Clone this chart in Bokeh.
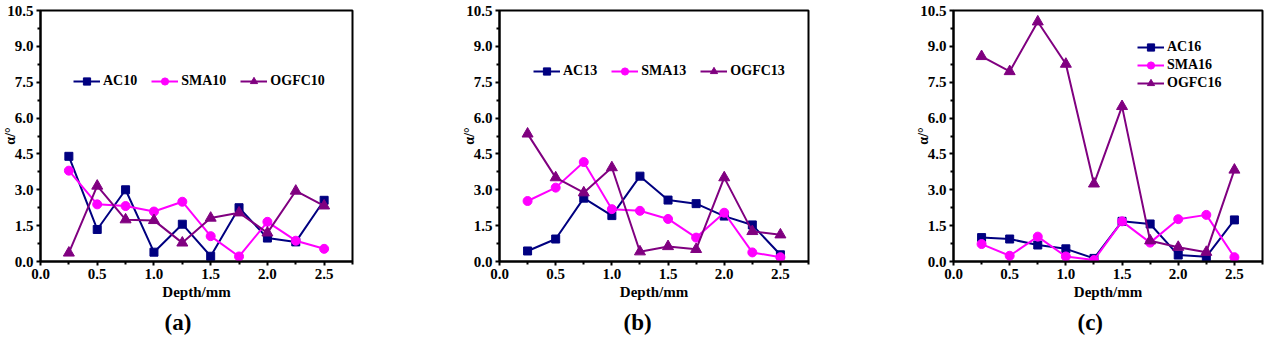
from bokeh.plotting import figure
from bokeh.models import (Range1d, FixedTicker, PrintfTickFormatter, Legend, LegendItem,
                          Title)
from bokeh.layouts import row
from bokeh.embed import file_html
from bokeh.resources import INLINE

depth = [0.25, 0.5, 0.75, 1.0, 1.25, 1.5, 1.75, 2.0, 2.25, 2.5]

ac10 = [4.40, 1.34, 3.00, 0.39, 1.56, 0.22, 2.25, 0.98, 0.82, 2.56]
sma10 = [3.80, 2.39, 2.32, 2.09, 2.50, 1.06, 0.21, 1.66, 0.87, 0.53]
ogfc10 = [0.36, 3.16, 1.75, 1.72, 0.78, 1.82, 2.04, 1.20, 2.95, 2.33]

ac13 = [0.44, 0.94, 2.65, 1.92, 3.57, 2.57, 2.42, 1.90, 1.53, 0.28]
sma13 = [2.53, 3.09, 4.16, 2.19, 2.12, 1.78, 1.00, 2.04, 0.38, 0.18]
ogfc13 = [5.34, 3.51, 2.88, 3.93, 0.41, 0.63, 0.51, 3.51, 1.26, 1.12]

ac16 = [1.00, 0.94, 0.69, 0.53, 0.13, 1.68, 1.57, 0.27, 0.20, 1.74]
sma16 = [0.73, 0.24, 1.04, 0.21, 0.06, 1.68, 0.79, 1.77, 1.95, 0.18]
ogfc16 = [8.58, 7.95, 10.03, 8.26, 3.25, 6.49, 0.87, 0.60, 0.39, 3.83]

x_ticks = [0.0, 0.5, 1.0, 1.5, 2.0, 2.5]
x_minor = [0.25, 0.75, 1.25, 1.75, 2.25, 2.75]
y_ticks = [0.0, 1.5, 3.0, 4.5, 6.0, 7.5, 9.0, 10.5]
y_minor = [0.75, 2.25, 3.75, 5.25, 6.75, 8.25, 9.75]

x_label = "Depth/mm"
y_label = "α/°"

C_AC = "#000080"
C_SMA = "#FF00FF"
C_OGFC = "#800080"
FONT = "Liberation Serif"

H = 340
TOP = 10
BOTTOM = 79


def panel(ac, sma, ogfc, names, caption, width, left, right, legend_loc, orient):
    p = figure(width=width, height=H, output_backend="svg", toolbar_location=None,
               x_range=Range1d(0, 2.75), y_range=Range1d(0, 10.5),
               min_border_left=left, min_border_right=right,
               min_border_top=TOP, min_border_bottom=BOTTOM)
    p.grid.visible = False
    p.outline_line_color = "black"
    p.outline_line_width = 2
    p.background_fill_color = "white"
    p.border_fill_color = "white"

    p.xaxis.ticker = FixedTicker(ticks=x_ticks, minor_ticks=x_minor)
    p.yaxis.ticker = FixedTicker(ticks=y_ticks, minor_ticks=y_minor)
    for ax in (p.xaxis[0], p.yaxis[0]):
        ax.formatter = PrintfTickFormatter(format="%.1f")
        ax.axis_line_width = 2
        ax.axis_line_color = "black"
        ax.major_tick_line_width = 2
        ax.minor_tick_line_width = 2
        ax.major_tick_in = 0
        ax.major_tick_out = 4
        ax.minor_tick_in = 0
        ax.minor_tick_out = 3
        ax.major_label_text_font = FONT
        ax.major_label_text_font_style = "bold"
        ax.major_label_text_font_size = "15px"
        ax.major_label_text_color = "black"
        ax.major_label_standoff = 3
        ax.axis_label_text_font = FONT
        ax.axis_label_text_font_style = "bold"
        ax.axis_label_text_color = "black"

    p.xaxis.axis_label = x_label
    p.xaxis.axis_label_text_font_size = "15px"
    p.xaxis.axis_label_standoff = 2
    p.yaxis.axis_label = y_label
    p.yaxis.axis_label_text_font_size = "14px"
    p.yaxis.axis_label_standoff = -14

    r1 = p.line(depth, ac, color=C_AC, line_width=2)
    s1 = p.scatter(depth, ac, marker="square", size=8, color=C_AC)
    r2 = p.line(depth, sma, color=C_SMA, line_width=2)
    s2 = p.scatter(depth, sma, marker="circle", size=9, color=C_SMA)
    r3 = p.line(depth, ogfc, color=C_OGFC, line_width=2)
    s3 = p.scatter(depth, ogfc, marker="triangle", size=11, color=C_OGFC)

    items = [LegendItem(label=names[0], renderers=[r1, s1]),
             LegendItem(label=names[1], renderers=[r2, s2]),
             LegendItem(label=names[2], renderers=[r3, s3])]
    leg = Legend(items=items, location=legend_loc, orientation=orient,
                 padding=0, margin=0, spacing=(14 if orient == "horizontal" else 0),
                 glyph_width=27, glyph_height=18, label_height=18, label_standoff=3,
                 label_text_font=FONT, label_text_font_style="bold",
                 label_text_font_size="14px", label_text_color="black",
                 border_line_color=None, background_fill_alpha=0)
    p.add_layout(leg, "center")

    p.add_layout(Title(text=caption, align="left", offset=124, standoff=10,
                       text_font=FONT, text_font_style="bold",
                       text_font_size="23px", text_color="black"), "below")
    return p


pa = panel(ac10, sma10, ogfc10, ["AC10", "SMA10", "OGFC10"], "(a)",
           420, 40, 68, (33, 171), "horizontal")
pb = panel(ac13, sma13, ogfc13, ["AC13", "SMA13", "OGFC13"], "(b)",
           420, 79, 32, (34, 181), "horizontal")
pc = panel(ac16, sma16, ogfc16, ["AC16", "SMA16", "OGFC16"], "(c)",
           428, 113, 6, (184, 169), "vertical")

layout = row(pa, pb, pc)
open("out.html", "w").write(file_html(layout, INLINE))
